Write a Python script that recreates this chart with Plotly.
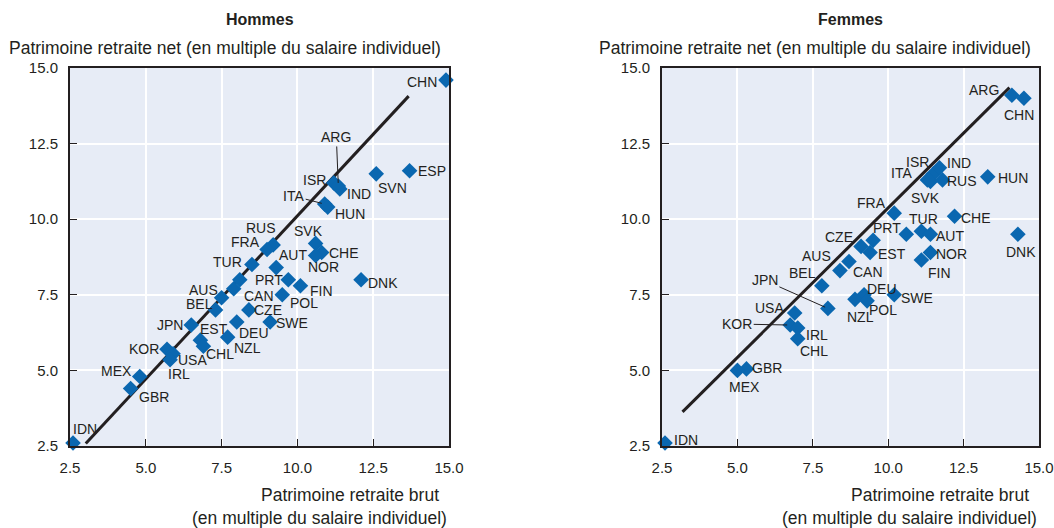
import plotly.graph_objects as go

# ---------------- data ----------------
# Hommes (men)
codes_h = ["CHN", "ESP", "SVN", "ISR", "IND", "ARG", "ITA", "HUN", "RUS", "FRA",
           "SVK", "CHE", "NOR", "AUT", "TUR", "PRT", "", "FIN", "DNK", "CAN",
           "POL", "AUS", "BEL", "CZE", "SWE", "DEU", "JPN", "EST", "NZL", "CHL",
           "KOR", "USA", "IRL", "MEX", "GBR", "IDN"]
gross_h = [14.9, 13.7, 12.6, 11.2, 11.4, 11.35, 10.9, 11.0, 9.2, 9.0,
           10.6, 10.8, 10.6, 9.3, 8.5, 8.1, 9.7, 10.1, 12.1, 7.9,
           9.5, 7.5, 7.3, 8.4, 9.1, 8.0, 6.5, 6.8, 7.7, 6.9,
           5.7, 5.9, 5.8, 4.8, 4.5, 2.6]
net_h = [14.6, 11.6, 11.5, 11.2, 11.0, 11.1, 10.5, 10.4, 9.15, 9.0,
         9.2, 8.9, 8.8, 8.4, 8.5, 8.0, 8.0, 7.8, 8.0, 7.7,
         7.5, 7.4, 7.0, 7.0, 6.6, 6.6, 6.5, 6.0, 6.1, 5.8,
         5.7, 5.55, 5.35, 4.8, 4.4, 2.6]
fit_x_h = [3.02, 13.67]
fit_y_h = [2.58, 14.07]

# Femmes (women)
codes_f = ["ARG", "CHN", "ISR", "IND", "ITA", "SVK", "RUS", "HUN", "FRA", "CHE",
           "TUR", "AUT", "PRT", "", "CZE", "EST", "NOR", "DNK", "FIN", "AUS",
           "CAN", "BEL", "JPN", "DEU", "SWE", "NZL", "POL", "USA", "KOR", "IRL",
           "CHL", "GBR", "MEX", "IDN"]
gross_f = [14.1, 14.5, 11.5, 11.7, 11.3, 11.4, 11.8, 13.3, 10.2, 12.2,
           11.1, 11.4, 9.5, 10.6, 9.1, 9.4, 11.4, 14.3, 11.1, 8.4,
           8.7, 7.8, 8.0, 9.2, 10.2, 8.9, 9.3, 6.9, 6.75, 7.0,
           7.0, 5.3, 5.0, 2.6]
net_f = [14.1, 14.0, 11.5, 11.7, 11.3, 11.25, 11.3, 11.4, 10.2, 10.1,
         9.6, 9.5, 9.3, 9.5, 9.1, 8.9, 8.9, 9.5, 8.65, 8.3,
         8.6, 7.8, 7.05, 7.5, 7.5, 7.35, 7.3, 6.9, 6.5, 6.4,
         6.05, 5.05, 5.0, 2.6]
fit_x_f = [3.18, 14.02]
fit_y_f = [3.63, 14.35]

tick_vals = [2.5, 5.0, 7.5, 10.0, 12.5, 15.0]
tick_text = ["2.5", "5.0", "7.5", "10.0", "12.5", "15.0"]

panel_titles = ["Hommes", "Femmes"]
y_title = "Patrimoine retraite net (en multiple du salaire individuel)"
x_title_1 = "Patrimoine retraite brut"
x_title_2 = "(en multiple du salaire individuel)"

# ---------------- label placement (pixel offsets, screen-down) ----------------
off_h = {"CHN": (-24, 2), "ESP": (22, 0), "SVN": (16, 14), "ISR": (-19, -3),
         "IND": (19, 5), "HUN": (22, 7), "RUS": (-12, -17), "FRA": (-22, -7),
         "SVK": (-7, -12), "CHE": (22, 1), "NOR": (8, 12), "AUT": (17, -13),
         "TUR": (-24, -3), "PRT": (29, 0), "FIN": (21, 5), "DNK": (22, 3),
         "CAN": (25, 7), "POL": (22, 8), "AUS": (-18, -8), "BEL": (-16, -6),
         "CZE": (19, 0), "SWE": (22, 1), "DEU": (17, 11), "JPN": (-21, 0),
         "EST": (14, -11), "NZL": (20, 11), "CHL": (17, 8), "KOR": (-23, 0),
         "USA": (19, 6), "IRL": (9, 14), "MEX": (-23, -5), "GBR": (23, 8),
         "IDN": (12, -14)}
lead_h = {"ARG": (-2, -49), "ITA": (-31, -8)}

off_f = {"ARG": (-28, -5), "CHN": (-5, 17), "ISR": (-16, -12), "IND": (20, -5),
         "ITA": (-26, -7), "SVK": (-5, 17), "RUS": (20, 1), "HUN": (25, 1),
         "FRA": (-23, -10), "CHE": (21, 2), "TUR": (2, -12), "AUT": (20, 2),
         "PRT": (14, -12), "CZE": (-22, -9), "EST": (22, 2), "NOR": (21, 2),
         "DNK": (3, 18), "FIN": (18, 13), "AUS": (-23, -15), "CAN": (19, 10),
         "BEL": (-19, -13), "DEU": (18, -6), "SWE": (23, 3), "NZL": (5, 18),
         "POL": (16, 9), "USA": (-25, -5), "IRL": (19, 7), "CHL": (16, 12),
         "GBR": (21, -1), "MEX": (7, 17), "IDN": (21, -3)}
lead_f = {"JPN": (-63, -28), "KOR": (-53, -1)}

# ---------------- styling ----------------
FONT = "Liberation Sans, Arial, sans-serif"
TXT = "#231F20"
BLUE = "#0A67B0"
BG = "#E7ECF6"
W, H = 1054, 528

fig = go.Figure()

panels = [
    (gross_h, net_h, codes_h, fit_x_h, fit_y_h, off_h, lead_h, "x", "y"),
    (gross_f, net_f, codes_f, fit_x_f, fit_y_f, off_f, lead_f, "x2", "y2"),
]

annotations = []
for gx, ny, codes, fx, fy, offs, leads, xa, ya in panels:
    fig.add_trace(go.Scatter(x=fx, y=fy, mode="lines", xaxis=xa, yaxis=ya,
                             line=dict(color=TXT, width=3), hoverinfo="skip",
                             showlegend=False))
    fig.add_trace(go.Scatter(x=gx, y=ny, mode="markers", xaxis=xa, yaxis=ya,
                             text=codes, cliponaxis=False, showlegend=False,
                             marker=dict(symbol="diamond", size=12, color=BLUE,
                                         line=dict(width=0))))
    for c, xv, yv in zip(codes, gx, ny):
        if not c:
            continue
        if c in offs:
            dx, dy = offs[c]
            annotations.append(dict(x=xv, y=yv, xref=xa, yref=ya, text=c,
                                    showarrow=False, xshift=dx, yshift=-dy,
                                    xanchor="center", yanchor="middle",
                                    font=dict(family=FONT, size=14, color=TXT)))
        elif c in leads:
            dx, dy = leads[c]
            annotations.append(dict(x=xv, y=yv, xref=xa, yref=ya, text=c,
                                    showarrow=True, arrowhead=0, arrowwidth=1,
                                    arrowcolor=TXT, ax=dx, ay=dy, standoff=3,
                                    font=dict(family=FONT, size=14, color=TXT)))

# panel texts
left_dom = [70 / W, 449 / W]
right_dom = [662 / W, 1039 / W]
for dom, title in zip([left_dom, right_dom], panel_titles):
    cx = (dom[0] + dom[1]) / 2
    annotations.append(dict(x=cx, y=1 - 20 / H, xref="paper", yref="paper",
                            text="<b>" + title + "</b>", showarrow=False,
                            xanchor="center", yanchor="middle",
                            font=dict(family=FONT, size=16, color=TXT)))
    annotations.append(dict(x=dom[1] - 6 / W, y=1 - 48 / H, xref="paper", yref="paper",
                            text=y_title, showarrow=False,
                            xanchor="right", yanchor="middle",
                            font=dict(family=FONT, size=17.5, color=TXT)))
    annotations.append(dict(x=dom[1] - 8 / W, y=1 - 495 / H, xref="paper", yref="paper",
                            text=x_title_1, showarrow=False,
                            xanchor="right", yanchor="middle",
                            font=dict(family=FONT, size=17.5, color=TXT)))
    annotations.append(dict(x=dom[1], y=1 - 518 / H, xref="paper", yref="paper",
                            text=x_title_2, showarrow=False,
                            xanchor="right", yanchor="middle",
                            font=dict(family=FONT, size=17.5, color=TXT)))

ydom = [1 - 446 / H, 1 - 68 / H]

axis_common = dict(range=[2.5, 15], tickvals=tick_vals, ticktext=tick_text,
                   showgrid=True, gridcolor="white", gridwidth=1.5,
                   zeroline=False, showline=True, linecolor=TXT, linewidth=2,
                   mirror=True, ticks="inside", ticklen=7, tickcolor=TXT,
                   tickwidth=1, tickfont=dict(family=FONT, size=15, color=TXT),
                   ticklabelstandoff=7,
                   fixedrange=True, automargin=False)

fig.update_layout(
    width=W, height=H,
    margin=dict(l=0, r=0, t=0, b=0, pad=0, autoexpand=False),
    paper_bgcolor="white", plot_bgcolor=BG,
    showlegend=False,
    xaxis=dict(domain=left_dom, anchor="y", **axis_common),
    yaxis=dict(domain=ydom, anchor="x", **axis_common),
    xaxis2=dict(domain=right_dom, anchor="y2", **axis_common),
    yaxis2=dict(domain=ydom, anchor="x2", **axis_common),
    annotations=annotations,
)

fig.write_html("out.html",
               config={"displayModeBar": False},
               post_script="document.body.style.margin='0';document.body.style.padding='0';")
